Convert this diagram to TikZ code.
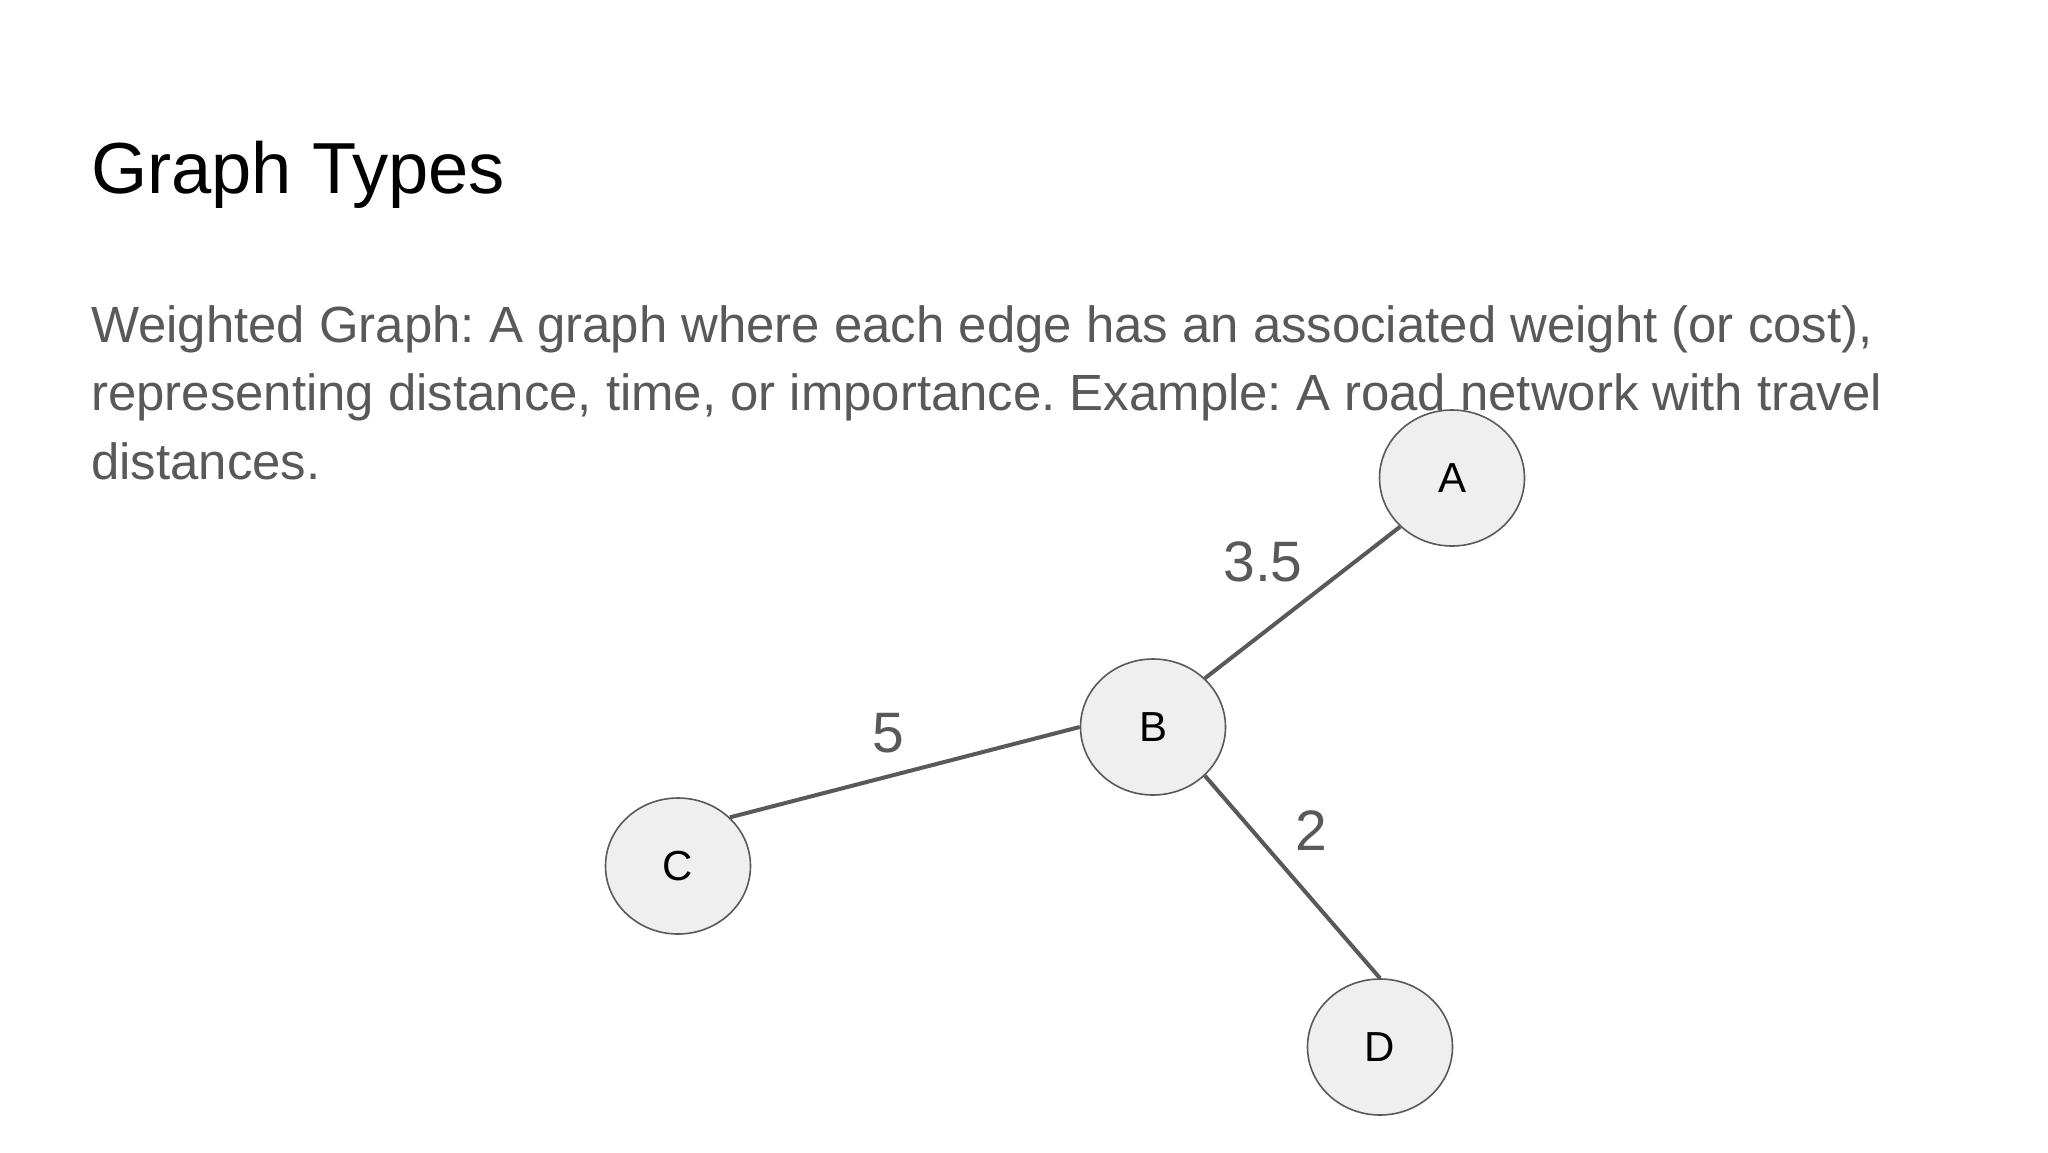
\documentclass[tikz,border=0pt]{standalone}
\usepackage{fontspec}
\setmainfont{Liberation Sans}
\usetikzlibrary{shapes.geometric}
\definecolor{txtgray}{HTML}{595959}
\definecolor{nodefill}{HTML}{EFEFEF}
\frenchspacing
\tikzset{
  vertex/.style={ellipse, draw=txtgray, line width=1.6pt, fill=nodefill, minimum width=145pt, minimum height=136pt, inner sep=0pt, font=\fontsize{42}{50}\selectfont, text=black},
  edgeline/.style={draw=txtgray, line width=4pt},
  weight/.style={text=txtgray, font=\fontsize{57}{68}\selectfont, inner sep=0pt},
  bodyline/.style={anchor=base west, inner sep=0pt, text=txtgray, font=\fontsize{50.9}{68}\selectfont},
  titletext/.style={anchor=base west, inner sep=0pt, text=black, font=\fontsize{72.3}{88}\selectfont}
}
\begin{document}
\begin{tikzpicture}[x=1pt,y=-1pt]
\path[fill=white] (0,0) rectangle (2048,1152);
\useasboundingbox (0,0) rectangle (2048,1152);
\node[titletext] (title) at (91,193) {Graph Types};
\node[bodyline] (l1) at (91,342) {Weighted Graph: A graph where each edge has an associated weight (or cost),};
\node[bodyline] (l2) at (91,410) {representing distance, time, or importance. Example: A road network with travel};
\node[bodyline] (l3) at (91,479) {distances.};
\node[vertex] (A) at (1452,478) {A};
\node[vertex] (B) at (1153,727) {B};
\node[vertex] (C) at (678,866) {C};
\node[vertex] (D) at (1380,1047) {D};
\draw[edgeline] (B.north east) -- (A.south west);
\draw[edgeline] (C.north east) -- (B.west);
\draw[edgeline] (B.south east) -- (D.north);
\node[weight] (wAB) at (1263,562) {3.5};
\node[weight] (wBC) at (888,733) {5};
\node[weight] (wBD) at (1311,831) {2};
\end{tikzpicture}
\end{document}
